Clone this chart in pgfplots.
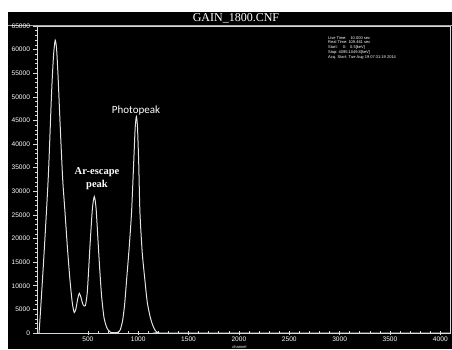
\documentclass[border=0pt]{standalone}
\usepackage{fontspec}
\setmainfont{Liberation Sans}
\newfontfamily\seriffont{Liberation Serif}
\newfontfamily\calfont{Carlito}
\usepackage{pgfplots}
\pgfplotsset{compat=1.18}
\definecolor{curve}{HTML}{E4E4E4}
\definecolor{axcol}{HTML}{D8D8D8}
\begin{document}
\begin{tikzpicture}
\useasboundingbox (-37.5pt,-16pt) rectangle (414.5pt,333pt);
\fill[white] (-37.5pt,-16pt) rectangle (414.5pt,333pt);
\fill[black] (-29.5pt,-16pt) rectangle (414.5pt,321pt);
\draw[gray!70, line width=0.8pt] (-29.5pt,308pt) -- (414.5pt,308pt);
\node[text=white, font=\seriffont\fontsize{12}{12}\selectfont, inner sep=0pt] at (198.5pt,315pt) {GAIN\_1800.CNF};
\begin{axis}[
  at={(0,0)}, anchor=south west, scale only axis,
  width=412.5pt, height=307pt,
  xmin=0, xmax=4096, ymin=0, ymax=65000,
  axis line style={axcol, line width=0.8pt},
  xtick={500,1000,...,4000},
  ytick={0,5000,...,65000},
  minor x tick num=4, minor y tick num=4,
  scaled y ticks=false, scaled x ticks=false,
  /pgf/number format/1000 sep={},
  /pgf/number format/assume math mode=true,
  tick label style={font=\fontsize{6.6}{6.6}\selectfont, text=white},
  xtick pos=lower, ytick pos=left,
  tick align=outside,
  major tick length=4pt, minor tick length=2.5pt,
  tick style={axcol, line width=0.6pt},
  minor x tick style={yshift=2.5pt},
  major x tick style={yshift=2pt},
  xticklabel style={yshift=1.5pt, inner sep=1pt},
  ylabel={Counts},
  ylabel style={text=white, font=\fontsize{5}{5}\selectfont, yshift=-1pt},
]
\addplot[curve, line width=1pt, smooth, tension=0.4] coordinates {
(0,0) (15,0) (60,15000) (107,33000) (140,51000) (160,59000) (176,62000) (190,60000)
(205,54000) (225,44000) (250,32600) (273,25600) (296,18400) (322,11300) (346,6300)
(365,4330) (382,5200) (400,7300) (415,8400) (432,7500) (452,6000) (475,5800)
(495,8800) (521,18400) (545,26300) (564,28900) (582,26300) (604,18400) (620,12800)
(637,7700) (660,3300) (685,1300) (703,600) (725,150) (760,50) (800,150)
(822,700) (845,2600) (865,6000) (885,11300) (910,18000) (934,25600) (955,36000)
(970,43500) (982,45800) (993,43500) (1005,36000) (1017,25600) (1040,17000) (1066,11300)
(1090,6500) (1120,3300) (1145,1600) (1170,500) (1195,80) (1220,0) (2000,0) (3000,0) (4095,0)
};
\end{axis}
\node[text=white, font=\fontsize{4}{4}\selectfont, inner sep=0pt, anchor=south] at (202pt,-15.6pt) {channel};
\node[text=white, font=\calfont\fontsize{11}{11}\selectfont, inner sep=0pt] at (98.5pt,222pt) {Photopeak};
\node[text=white, font=\seriffont\bfseries\fontsize{10.5}{13}\selectfont, inner sep=0pt, align=center] at (59.5pt,154.5pt) {Ar-escape\\peak};
\node[text=white, font=\fontsize{4}{4.8}\selectfont, inner sep=0pt, align=left, anchor=north west] at (290.5pt,297pt)
{Live Time:\quad 10.000 sec\\Real Time:\ 109.461 sec\\Start:\quad\ 0:\quad 0.5[keV]\\Stop:\ 4095:1049.8[keV]\\Acq. Start: Tue Aug 19 07:31:19 2014};
\end{tikzpicture}
\end{document}
